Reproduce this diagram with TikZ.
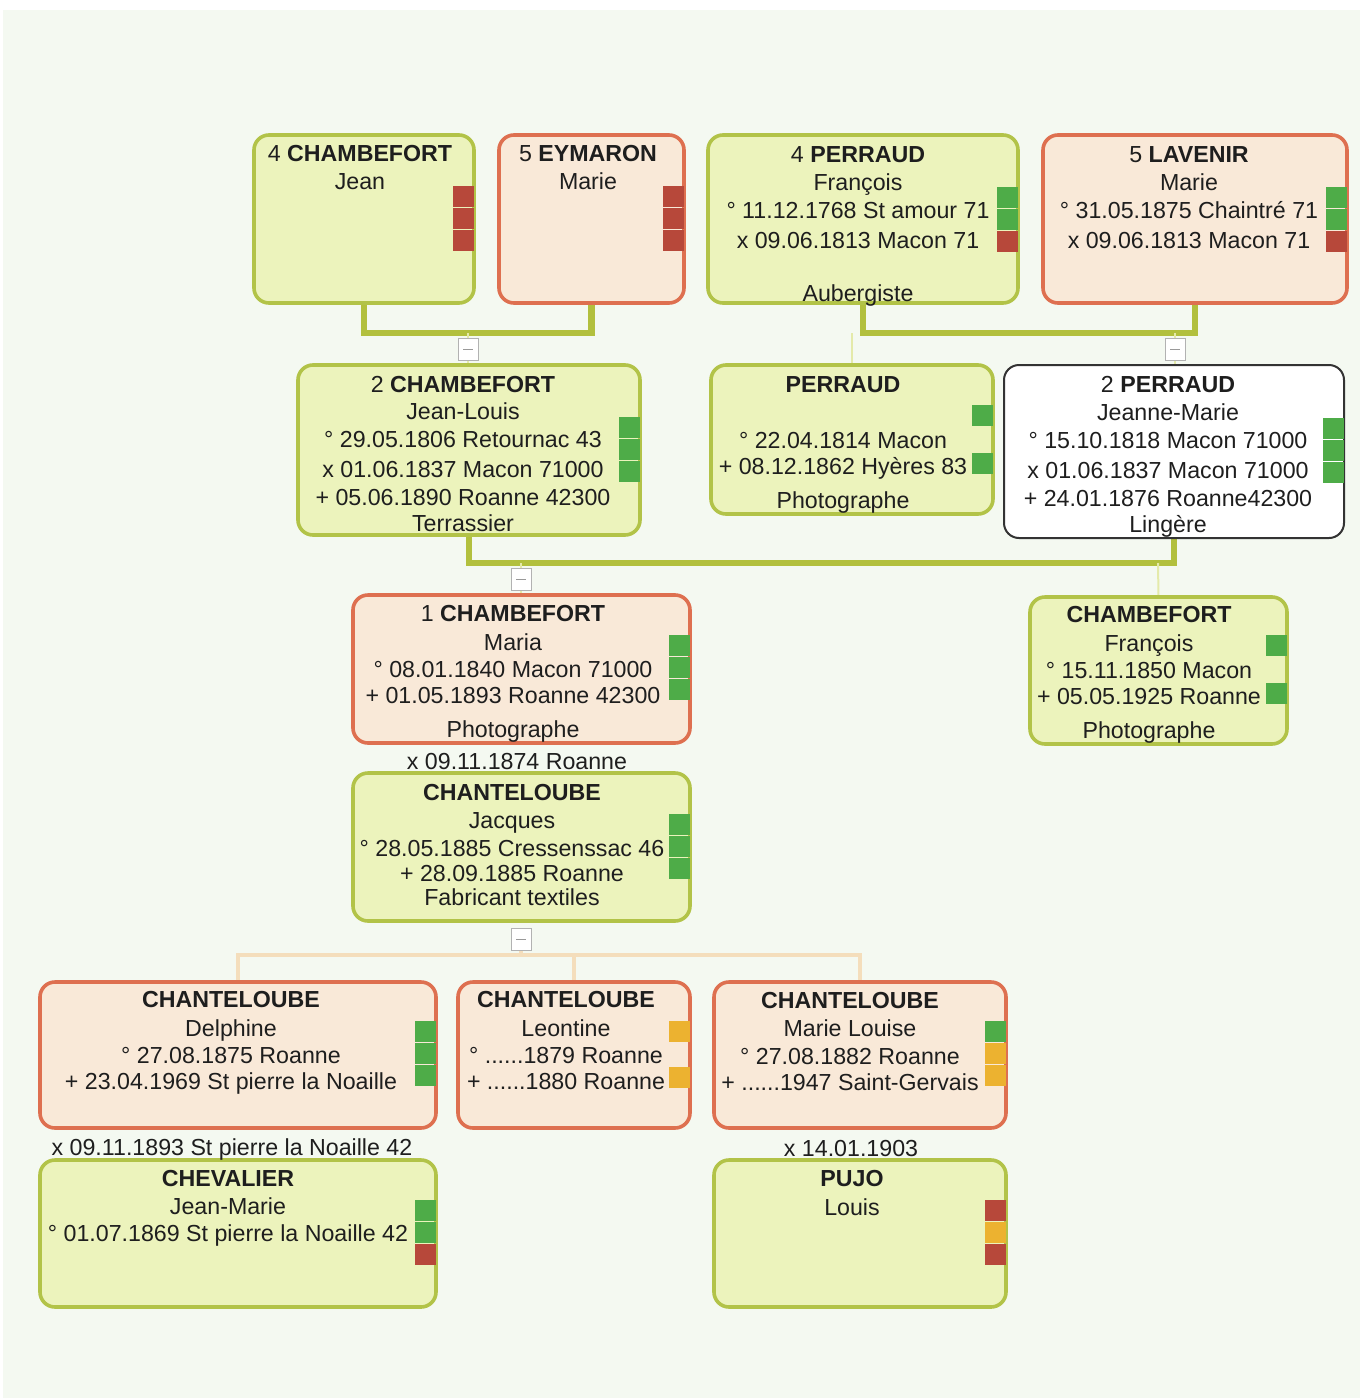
\documentclass[tikz,border=0pt]{standalone}
\usepackage{fontspec}
\setmainfont{Liberation Sans}
\definecolor{gfill}{RGB}{236,243,188}
\definecolor{gline}{RGB}{178,195,72}
\definecolor{rfill}{RGB}{249,233,216}
\definecolor{rline}{RGB}{222,112,80}
\definecolor{bgc}{RGB}{244,249,241}
\definecolor{cline}{RGB}{178,192,62}
\definecolor{indR}{RGB}{183,72,58}
\definecolor{indG}{RGB}{78,172,72}
\definecolor{indO}{RGB}{236,178,48}
\definecolor{thinc}{RGB}{228,234,170}
\definecolor{peach}{RGB}{244,222,188}
\definecolor{txtc}{RGB}{30,30,30}
\pgfdeclarelayer{behind}
\pgfsetlayers{behind,main}
\tikzset{
  pbase/.style={rectangle, rounded corners=7.5pt, line width=1.8pt, inner sep=0pt, outer sep=0pt},
  gbox/.style={pbase, draw=gline, fill=gfill},
  rbox/.style={pbase, draw=rline, fill=rfill},
  wbox/.style={pbase, draw=black!80, fill=white, line width=1pt},
  ptext/.style={anchor=mid, inner sep=0pt, text=txtc, font=\fontsize{11.6}{13}\selectfont},
  couple/.style={draw=cline, line width=3.2pt},
  thinl/.style={draw=thinc, line width=1pt},
  peachl/.style={draw=peach, line width=1.6pt},
  btn/.style={rectangle, draw=black!30, fill=white, line width=0.5pt, minimum width=10pt, minimum height=11pt, inner sep=0pt,
    path picture={\draw[black!40, line width=0.4pt] ([xshift=-2.5pt]path picture bounding box.center) -- ([xshift=2.5pt]path picture bounding box.center);}}
}
\newcommand\pbox[6]{\node[#2, minimum width={(#5-#3)*0.5pt}, minimum height={(#6-#4)*0.5pt}] (#1) at ({(#3+#5)/2},{(#4+#6)/2}) {};}
\newcommand\ind[3]{\fill[#3] ({#1-21},#2) rectangle (#1,{#2+21});}
\newcommand\plines[3]{\foreach \yy/\lt [count=\i] in {#3} {\node[ptext] (#1-\i) at (#2,\yy+3) {\lt};}}
\begin{document}
\begin{tikzpicture}[x=0.5pt, y=-0.5pt]
\useasboundingbox (0,0) rectangle (1360,1398);
\begin{pgfonlayer}{behind}
\fill[white] (0,0) rectangle (1360,1398);
\fill[bgc] (3,10) rectangle (1360,1398);
\end{pgfonlayer}

% junction coordinates
\coordinate (m1) at (468,333);
\coordinate (m2) at (1175,333);
\coordinate (m2c) at (852,333);
\coordinate (m3) at (521,563);
\coordinate (m3c) at (1158,563);
\coordinate (m4) at (521,955);

% boxes
\pbox{b1}{gbox}{254}{135}{474}{303}
\pbox{b2}{rbox}{499}{135}{684}{303}
\pbox{b3}{gbox}{708}{135}{1018}{303}
\pbox{b4}{rbox}{1043}{135}{1347}{303}
\pbox{b5}{gbox}{298}{365}{640}{535}
\pbox{b6}{gbox}{711}{365}{993}{514}
\pbox{b7}{wbox}{1004}{365}{1344}{538}
\pbox{b8}{rbox}{353}{595}{690}{743}
\pbox{b9}{gbox}{1030}{597}{1287}{744}
\pbox{b10}{gbox}{353}{773}{690}{921}
\pbox{b11}{rbox}{40}{982}{436}{1128}
\pbox{b12}{rbox}{458}{982}{690}{1128}
\pbox{b13}{rbox}{714}{982}{1006}{1128}
\pbox{b14}{gbox}{40}{1160}{436}{1307}
\pbox{b15}{gbox}{714}{1160}{1006}{1307}

% buttons
\node[btn] (k1) at (468,349) {};
\node[btn] (k2) at (1175,349) {};
\node[btn] (k3) at (521,579) {};
\node[btn] (k4) at (521,939) {};

% connectors (behind the boxes)
\begin{pgfonlayer}{behind}
\draw[couple] (b1.south) |- (m1) -| (b2.south);
\draw[couple] (b3.south) |- (m2) -| (b4.south);
\draw[couple] (b5.south) |- (m3) -| (b7.south);
\draw[thinl] (m1) -- (k1.north);
\draw[thinl] (k1.south) -- (k1.south |- b5.north);
\draw[thinl] (m2) -- (k2.north);
\draw[thinl] (k2.south) -- (k2.south |- b7.north);
\draw[thinl] (m2c) -- (b6.north);
\draw[thinl] (m3) -- (k3.north);
\draw[thinl] (k3.south) -- (k3.south |- b8.north);
\draw[thinl] (m3c) -- (b9.north);
\draw[peachl] (b11.north) |- (m4) -| (b13.north);
\draw[peachl] (b12.north) -- (b12.north |- m4);
\draw[peachl] (k4.south) -- (m4);
\end{pgfonlayer}

% indicators
\ind{474}{186}{indR}\ind{474}{208}{indR}\ind{474}{230}{indR}
\ind{684}{186}{indR}\ind{684}{208}{indR}\ind{684}{230}{indR}
\ind{1018}{187}{indG}\ind{1018}{209}{indG}\ind{1018}{231}{indR}
\ind{1347}{187}{indG}\ind{1347}{209}{indG}\ind{1347}{231}{indR}
\ind{640}{417}{indG}\ind{640}{439}{indG}\ind{640}{461}{indG}
\ind{993}{405}{indG}\ind{993}{453}{indG}
\ind{1344}{418}{indG}\ind{1344}{440}{indG}\ind{1344}{462}{indG}
\ind{690}{635}{indG}\ind{690}{657}{indG}\ind{690}{679}{indG}
\ind{1287}{635}{indG}\ind{1287}{683}{indG}
\ind{690}{814}{indG}\ind{690}{836}{indG}\ind{690}{858}{indG}
\ind{436}{1021}{indG}\ind{436}{1043}{indG}\ind{436}{1065}{indG}
\ind{690}{1021}{indO}\ind{690}{1067}{indO}
\ind{1006}{1021}{indG}\ind{1006}{1043}{indO}\ind{1006}{1065}{indO}
\ind{436}{1200}{indG}\ind{436}{1222}{indG}\ind{436}{1244}{indR}
\ind{1006}{1200}{indR}\ind{1006}{1222}{indO}\ind{1006}{1244}{indR}

% texts
\plines{t1}{360}{153/{4 \textbf{CHAMBEFORT}}, 181/Jean}
\plines{t2}{588}{153/{5 \textbf{EYMARON}}, 181/Marie}
\plines{t3}{858}{154/{4 \textbf{PERRAUD}}, 182/François, 210/{° 11.12.1768 St amour 71}, 240/{x 09.06.1813 Macon 71}, 293/Aubergiste}
\plines{t4}{1189}{154/{5 \textbf{LAVENIR}}, 182/Marie, 210/{° 31.05.1875 Chaintré 71}, 240/{x 09.06.1813 Macon 71}}
\plines{t5}{463}{384/{2 \textbf{CHAMBEFORT}}, 411/Jean-Louis, 439/{° 29.05.1806 Retournac 43}, 469/{x 01.06.1837 Macon 71000}, 497/{+ 05.06.1890 Roanne 42300}, 523/Terrassier}
\plines{t6}{843}{384/{\textbf{PERRAUD}}, 440/{° 22.04.1814 Macon}, 466/{+ 08.12.1862 Hyères 83}, 500/Photographe}
\plines{t7}{1168}{384/{2 \textbf{PERRAUD}}, 412/Jeanne-Marie, 440/{° 15.10.1818 Macon 71000}, 470/{x 01.06.1837 Macon 71000}, 498/{+ 24.01.1876 Roanne42300}, 524/Lingère}
\plines{t8}{513}{613/{1 \textbf{CHAMBEFORT}}, 642/Maria, 669/{° 08.01.1840 Macon 71000}, 695/{+ 01.05.1893 Roanne 42300}, 729/Photographe}
\plines{t9}{1149}{614/{\textbf{CHAMBEFORT}}, 643/François, 670/{° 15.11.1850 Macon}, 696/{+ 05.05.1925 Roanne}, 730/Photographe}
\plines{t10}{512}{792/{\textbf{CHANTELOUBE}}, 820/Jacques, 848/{° 28.05.1885 Cressenssac 46}, 873/{+ 28.09.1885 Roanne}, 897/{Fabricant textiles}}
\plines{t11}{231}{999/{\textbf{CHANTELOUBE}}, 1028/Delphine, 1055/{° 27.08.1875 Roanne}, 1081/{+ 23.04.1969 St pierre la Noaille}}
\plines{t12}{566}{999/{\textbf{CHANTELOUBE}}, 1028/Leontine, 1055/{° ......1879 Roanne}, 1081/{+ ......1880 Roanne}}
\plines{t13}{850}{1000/{\textbf{CHANTELOUBE}}, 1028/{Marie Louise}, 1056/{° 27.08.1882 Roanne}, 1082/{+ ......1947 Saint-Gervais}}
\plines{t14}{228}{1178/{\textbf{CHEVALIER}}, 1206/Jean-Marie, 1233/{° 01.07.1869 St pierre la Noaille 42}}
\plines{t15}{852}{1178/{\textbf{PUJO}}, 1207/Louis}

% marriage labels
\node[ptext] (x1) at (517,764) {x 09.11.1874 Roanne};
\node[ptext] (x2) at (232,1150) {x 09.11.1893 St pierre la Noaille 42};
\node[ptext] (x3) at (851,1151) {x 14.01.1903};
\end{tikzpicture}
\end{document}
